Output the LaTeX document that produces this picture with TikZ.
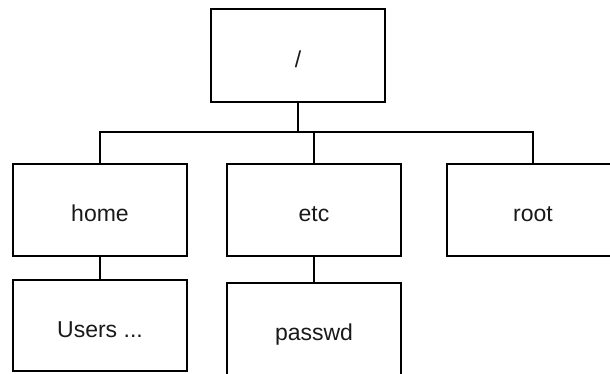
\documentclass[tikz,border=0pt]{standalone}
\usepackage{fontspec}
\setmainfont{Liberation Sans}
\begin{document}
\begin{tikzpicture}[x=1pt,y=-1pt,
  box/.style={draw=black,line width=2.2pt,rectangle,inner sep=0pt,
    minimum width=174pt,minimum height=92pt,text height=23pt,text depth=0pt,
    font=\fontsize{23}{27}\selectfont,text=black!90},
  link/.style={draw=black,line width=2.2pt}]
\useasboundingbox (0,0) rectangle (610,373);
\clip (0,0) rectangle (610,373);
\node[box,minimum height=93pt] (top) at (298,55.5) {/};
\node[box] (home) at (100,210) {home};
\node[box] (etc) at (314,210) {etc};
\node[box,minimum width=172pt] (root) at (533,210) {root};
\node[box,minimum height=91pt] (users) at (100,325.5) {Users ...};
\node[box] (passwd) at (314,329) {passwd};
\coordinate (bus) at (298,132);
\draw[link] (top.south) -- (bus);
\draw[link] (home.north) -- (home.north |- bus) -- (root.north |- bus) -- (root.north);
\draw[link] (etc.north) -- (etc.north |- bus);
\draw[link] (home.south) -- (users.north);
\draw[link] (etc.south) -- (passwd.north);
\end{tikzpicture}
\end{document}
